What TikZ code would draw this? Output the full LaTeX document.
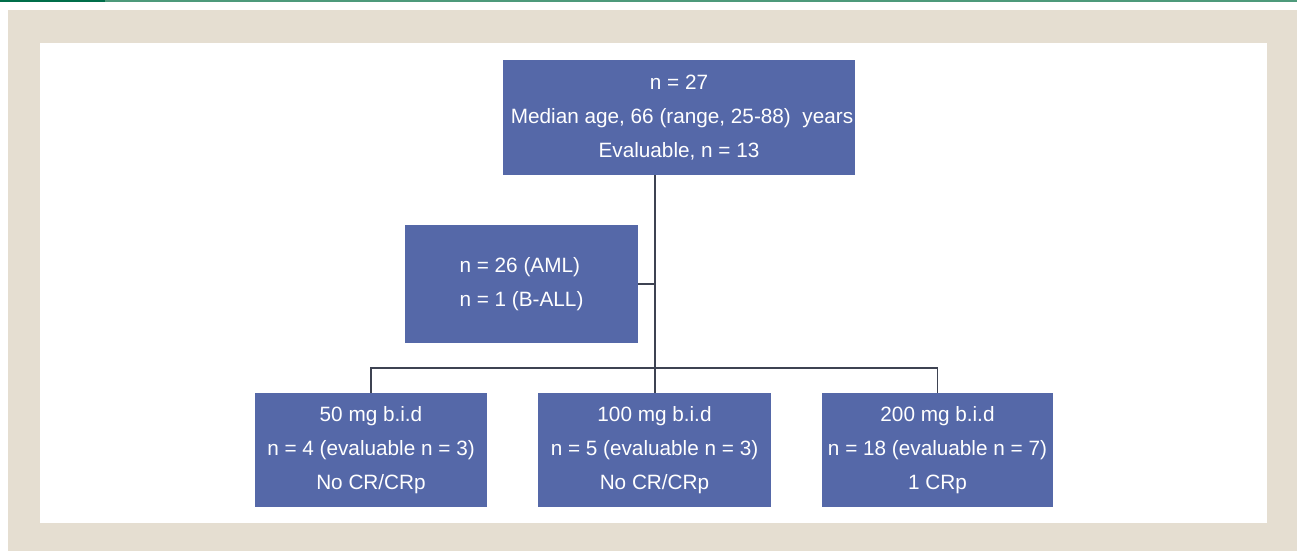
\documentclass[tikz,border=0pt]{standalone}
\usepackage{fontspec}
\setmainfont{Liberation Sans}
\usepackage{xcolor}
\usetikzlibrary{positioning,calc}
\definecolor{boxblue}{HTML}{5568A8}
\definecolor{pagebg}{HTML}{E5DED1}
\definecolor{greendark}{HTML}{006E4A}
\definecolor{greenlight}{HTML}{4E9A7B}
\definecolor{linegray}{HTML}{3E4352}

\tikzset{
  armbox/.style={draw=none, fill=boxblue, text=white, align=center,
    inner sep=0pt, font=\fontsize{11.8}{19.2}\selectfont},
  link/.style={draw=linegray, line width=1pt}
}

\begin{document}
\begin{tikzpicture}
  \useasboundingbox (0,0) rectangle (25.94,11.02);
  % frame and panel
  \fill[pagebg] (0.16,0) rectangle (25.94,10.82);
  \fill[white] (0.80,0.56) rectangle (25.34,10.16);
  \fill[greenlight] (2.10,10.98) rectangle (25.94,11.02);
  \fill[greendark] (0,10.97) rectangle (2.10,11.02);

  % Top: whole cohort
  \node[armbox, minimum width=7.04cm, minimum height=2.30cm] (cohort) at (13.58,8.67)
    {n = 27\\ \hspace*{0.12cm}Median age, 66 (range, 25-88)\ \ years\\ Evaluable, n = 13};

  % Side: diagnoses
  \node[armbox, align=left, minimum width=4.66cm, minimum height=2.36cm] (diag) at (10.43,5.34)
    {n = 26 (AML)\\ n = 1 (B-ALL)};

  % Bottom: dose arms
  \node[armbox, minimum width=4.64cm, minimum height=2.28cm] (dose50) at (7.42,2.02)
    {50 mg b.i.d\\ n = 4 (evaluable n = 3)\\ No CR/CRp};
  \node[armbox, minimum width=4.66cm, minimum height=2.28cm] (dose100) at (13.09,2.02)
    {100 mg b.i.d\\ n = 5 (evaluable n = 3)\\ No CR/CRp};
  \node[armbox, minimum width=4.62cm, minimum height=2.28cm] (dose200) at (18.75,2.02)
    {200 mg b.i.d\\ n = 18 (evaluable n = 7)\\ 1 CRp};

  % Connectors
  \coordinate (hub) at (13.10,3.66);
  \draw[link, line width=1.4pt] (cohort.south -| hub) -- (hub);
  \draw[link] (diag.east) -- (diag.east -| hub);
  \draw[link] (dose50.north) |- (hub) -| (dose200.north);
  \draw[link] (hub) -- (dose100.north -| hub);
\end{tikzpicture}
\end{document}
